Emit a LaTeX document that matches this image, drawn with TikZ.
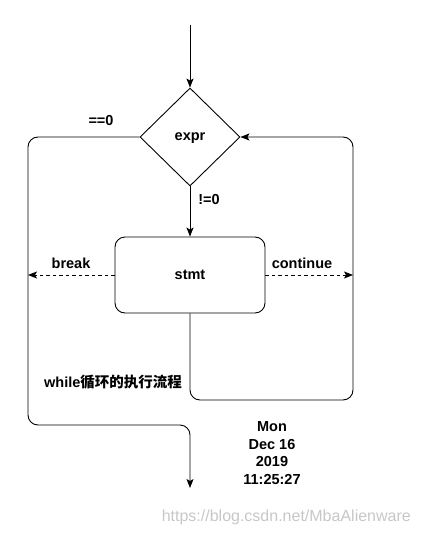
\documentclass[tikz,border=0pt]{standalone}
\usepackage{fontspec}
\setmainfont{Liberation Sans}
\newfontfamily\cjkfont{Noto Sans CJK SC}
\usetikzlibrary{shapes.geometric,arrows.meta}
\begin{document}
\begin{tikzpicture}[x=1pt,y=-1pt,
  lbl/.style={font=\fontsize{14.5}{17.5}\selectfont\bfseries, inner sep=0pt},
  flow/.style={line width=0.9pt, -{Stealth[length=9pt,width=7pt,inset=2pt]}},
  dflow/.style={flow, dash pattern=on 3.5pt off 3pt}]
\useasboundingbox (0,0) rectangle (420,535);
\node[draw, line width=0.9pt, diamond, minimum width=100pt, minimum height=98pt, inner sep=0pt, aspect=1] (expr) at (190,137) {};
\node[lbl] (exprtext) at (190,138) {expr};
\node[draw, line width=0.9pt, rounded corners=10pt, minimum width=150pt, minimum height=76pt, lbl] (stmt) at (190,275) {stmt};
\coordinate (top) at (190,25);
\coordinate (end) at (190,488);
\coordinate (bl) at (28,275);
\coordinate (cr) at (353,275);
\draw[flow] (top) -- (expr.north);
\draw[flow] (expr.south) -- (stmt.north);
\draw[flow, rounded corners=10pt] (expr.west) -- (28,137) -- (28,425) -- (190,425) -- (end);
\draw[flow, rounded corners=10pt] (stmt.south) -- (190,400) -- (353,400) -- (353,137) -- (expr.east);
\draw[dflow] (stmt.west) -- (bl);
\draw[dflow] (stmt.east) -- (cr);
\node[lbl] (eq) at (101,121) {==0};
\node[lbl] (ne) at (209,200) {!=0};
\node[lbl] (brk) at (71,263) {break};
\node[lbl] (cont) at (302,263) {continue};
\node[lbl, anchor=west] (title) at (44,382) {while\cjkfont 循环的执行流程};
\node[lbl, align=center] (date) at (272,453) {Mon\\Dec 16\\2019\\11:25:27};
\node[font=\fontsize{16}{18}\selectfont, text=black!22, anchor=east, inner sep=0pt] (wm) at (411,517) {https://blog.csdn.net/MbaAlienware};
\end{tikzpicture}
\end{document}
